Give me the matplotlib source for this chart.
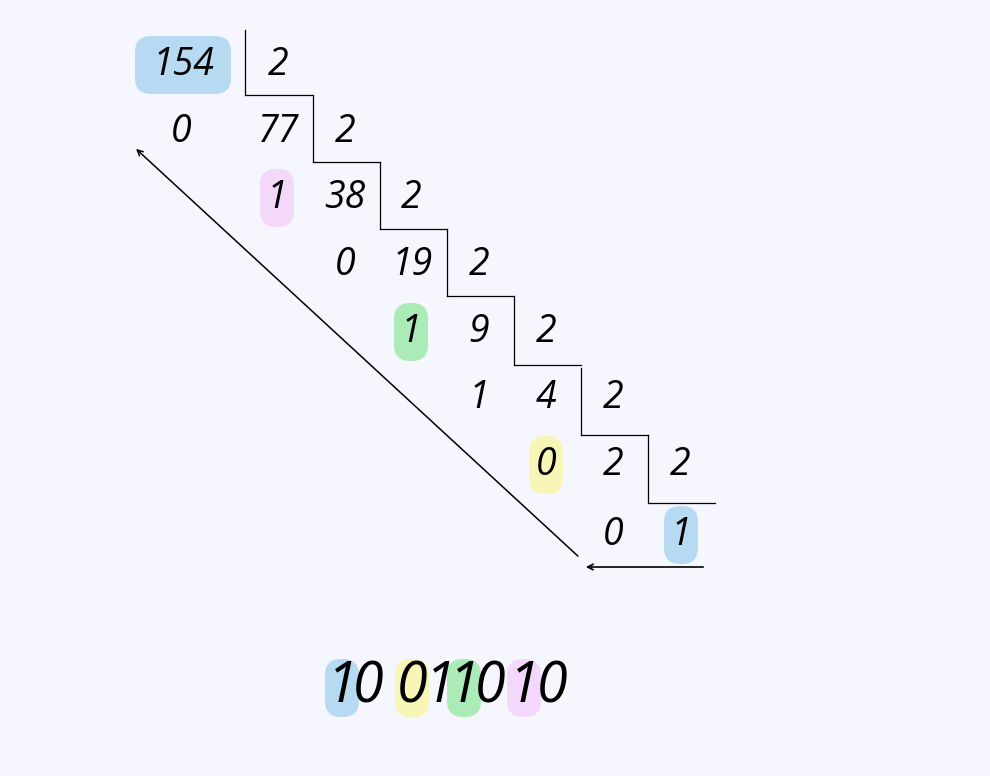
import matplotlib.pyplot as plt
from matplotlib.patches import FancyBboxPatch

# quotient column / remainder rows: (text, x, y, highlight)
cells = [
    ("154", 183, 65, "#b5daf1"), ("2", 278, 65, None),
    ("0", 181, 132, None), ("77", 278, 132, None), ("2", 345, 132, None),
    ("1", 277, 198, "#f3d8fb"), ("38", 345, 198, None), ("2", 411, 198, None),
    ("0", 345, 265, None), ("19", 412, 265, None), ("2", 479, 265, None),
    ("1", 411, 332, "#abebb8"), ("9", 479, 332, None), ("2", 546, 332, None),
    ("1", 479, 398, None), ("4", 546, 398, None), ("2", 613, 398, None),
    ("0", 546, 465, "#f8f6b6"), ("2", 613, 465, None), ("2", 680, 465, None),
    ("0", 613, 535, None), ("1", 681, 535, "#b5daf1"),
]
result_digits = list("10011010")
result_x = [342, 368, 412, 440, 464, 490, 524, 552]
result_hl = ["#b5daf1", None, "#f8f6b6", None, "#abebb8", None, "#f3d8fb", None]

fig = plt.figure(figsize=(9.9, 7.76), dpi=100, facecolor="#f6f7fe")
ax = fig.add_axes([0, 0, 1, 1])
ax.set_xlim(0, 990)
ax.set_ylim(776, 0)
ax.axis("off")
ax.set_facecolor("#f6f7fe")

font = dict(family="Open Sans", style="italic", color="black",
            ha="center", va="center")

def hl(xc, yc, w, h, c):
    r = 16
    ax.add_patch(FancyBboxPatch((xc - w / 2 + r, yc - h / 2 + r),
                                w - 2 * r, h - 2 * r,
                                boxstyle="round,pad=16,rounding_size=16",
                                fc=c, ec="none", zorder=1))

for t, x, y, c in cells:
    if c:
        w = 96 if len(t) == 3 else 34
        hl(x, y, w, 58, c)
    ax.text(x, y, t, fontsize=27, zorder=2, **font)

# staircase lines
xs = [245, 313, 380, 447, 514, 581, 648]
tops = [30, 95, 162, 229, 296, 368, 435]
bots = [95, 162, 229, 296, 365, 435, 503]
for i, x in enumerate(xs):
    ax.plot([x, x], [tops[i], bots[i]], color="black", lw=0.9)
    ax.plot([x, x + 67], [bots[i], bots[i]], color="black", lw=0.9)

ax.annotate("", xy=(583, 567), xytext=(706, 567),
            arrowprops=dict(arrowstyle="->", lw=1.2, color="black"))
ax.annotate("", xy=(134, 147), xytext=(580, 558),
            arrowprops=dict(arrowstyle="->", lw=1.1, color="black"))

for d, x, c in zip(result_digits, result_x, result_hl):
    if c:
        hl(x, 688, 34, 58, c)
    ax.text(x, 688, d, fontsize=40, zorder=2, **font)

fig.savefig("out.png", dpi=100, facecolor=fig.get_facecolor())
